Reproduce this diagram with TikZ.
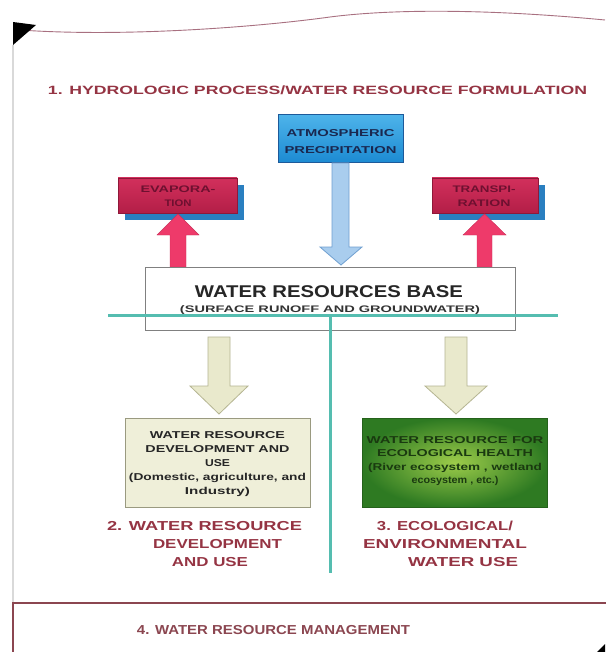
\documentclass[tikz,border=0pt]{standalone}
\usepackage{fontspec}
\setmainfont{Liberation Sans}
\usepackage{graphicx}
\newcommand\fw[2]{\resizebox{#1pt}{\height}{#2}}
\definecolor{labred}{HTML}{953443}
\definecolor{mgmtred}{HTML}{8B4650}
\definecolor{topline}{HTML}{A87080}
\definecolor{precipline}{HTML}{1D5A9A}
\definecolor{precipTop}{HTML}{4DB3EA}
\definecolor{precipBot}{HTML}{1C8AD2}
\definecolor{preciptext}{HTML}{1A2850}
\definecolor{arrowblue}{HTML}{A9CDEE}
\definecolor{arrowblueline}{HTML}{6F9FD0}
\definecolor{redTop}{HTML}{D2305C}
\definecolor{redBot}{HTML}{B31E47}
\definecolor{redtext}{HTML}{6E1030}
\definecolor{shadowblue}{HTML}{2A7FC0}
\definecolor{arrowred}{HTML}{EE3A6A}
\definecolor{teal}{HTML}{55BDB0}
\definecolor{beige}{HTML}{E9E9CC}
\definecolor{beigeline}{HTML}{B5B592}
\definecolor{boxbeige}{HTML}{EFEFD9}
\definecolor{boxbeigeline}{HTML}{9A9A80}
\definecolor{greenLight}{HTML}{9CCC4A}
\definecolor{greenDark}{HTML}{2E7A22}
\definecolor{greentext}{HTML}{1A3A10}
\begin{document}
\begin{tikzpicture}[x=1pt,y=-1pt,
  txt/.style={inner sep=0pt, align=center},
  lab/.style={txt, text=labred, font=\fontsize{13}{18}\selectfont\bfseries},
  redbox/.style={draw=redBot!80!black, line width=0.6pt, top color=redTop, bottom color=redBot,
    minimum height=35pt, inner sep=0pt},
  shadowbox/.style={fill=shadowblue, minimum height=35pt, inner sep=0pt},
  redtxt/.style={txt, text=redtext, font=\fontsize{9.5}{14}\selectfont\bfseries},
  usebox/.style={minimum width=185pt, minimum height=89pt, inner sep=0pt, line width=0.8pt},
  boxtxt/.style={txt, font=\fontsize{10}{14}\selectfont\bfseries},
  redarrow/.style={fill=arrowred, draw=arrowred!85!black, line width=0.4pt},
  beigearrow/.style={fill=beige, draw=beigeline, line width=0.8pt},
  tealline/.style={draw=teal, line width=3pt}
]
\useasboundingbox (0,0) rectangle (605,652);
\fill[white] (0,0) rectangle (605,652);

% top decoration
\draw[topline, line width=0.9pt] (20,30) .. controls (120,37) and (250,28) .. (330,17)
  .. controls (400,8) and (500,10) .. (605,20);
\fill[black] (13,22) -- (36,25) -- (13,45) -- cycle;
\draw[black!15, line width=2pt] (13,45) -- (13,603);
\fill[black] (597,652) -- (605,644) -- (605,652) -- cycle;

% title
\node[lab, font=\fontsize{12}{14}\selectfont\bfseries] (title) at (317.5,90)
  {\fw{539}{1. HYDROLOGIC PROCESS/WATER RESOURCE FORMULATION}};

% precipitation
\node[draw=precipline, line width=1pt, top color=precipTop, bottom color=precipBot,
  minimum width=125pt, minimum height=48pt, inner sep=0pt] (precip) at (340.5,139) {};
\node[txt, text=preciptext, font=\fontsize{10}{17}\selectfont\bfseries] (preciptxt) at (340.5,141.5)
  {\fw{108}{ATMOSPHERIC}\\\fw{112}{PRECIPITATION}};

% evaporation / transpiration
\node[shadowbox, minimum width=119pt] (evapsh) at (184.5,202.5) {};
\node[redbox, minimum width=119pt] (evap) at (177.5,195.5) {};
\node[redtxt] (evaptxt) at (178,196) {\fw{75}{EVAPORA-}\\\fw{27}{TION}};
\node[shadowbox, minimum width=106pt] (transsh) at (492,202.5) {};
\node[redbox, minimum width=106pt] (trans) at (485,195.5) {};
\node[redtxt] (transtxt) at (484,196) {\fw{63}{TRANSPI-}\\\fw{53}{RATION}};

% arrows into/out of base
\path[redarrow] (170,267) -- (170,235) -- (157,235) -- (178,214) -- (199,235) -- (186,235) -- (186,267) -- cycle;
\path[redarrow] (477,267) -- (477,235) -- (463,235) -- (484.5,214) -- (506,235) -- (492,235) -- (492,267) -- cycle;
\path[fill=arrowblue, draw=arrowblueline, line width=0.8pt]
  (332,163) -- (332,247) -- (320,247) -- (341,265) -- (362,247) -- (349,247) -- (349,163) -- cycle;

% base
\node[draw=black!50, fill=white, line width=0.8pt, minimum width=370pt, minimum height=63pt, inner sep=0pt]
  (base) at (330,298.5) {};
\node[txt, font=\fontsize{17}{20}\selectfont\bfseries, text=black!85] (basetxt) at (329,292)
  {\fw{268}{WATER RESOURCES BASE}};
\node[txt, font=\fontsize{9.5}{12}\selectfont\bfseries, text=black!80] (basesub) at (330,310)
  {\fw{300}{(SURFACE RUNOFF AND GROUNDWATER)}};

% teal cross
\path[tealline] (108,315) -- (558,315);
\path[tealline] (330,315) -- (330,573);

% beige arrows
\path[beigearrow] (208,337) -- (208,386) -- (190,386) -- (219,414) -- (248,386) -- (230,386) -- (230,337) -- cycle;
\path[beigearrow] (445,337) -- (445,386) -- (425,386) -- (456,414) -- (487,386) -- (467,386) -- (467,337) -- cycle;

% use boxes
\node[usebox, fill=boxbeige, draw=boxbeigeline] (devbox) at (217.5,462.5) {};
\node[boxtxt, text=black!85] (devtxt) at (217.5,464)
  {\fw{135}{WATER RESOURCE}\\\fw{144}{DEVELOPMENT AND}\\\fw{25}{USE}\\\fw{177}{(Domestic, agriculture, and}\\\fw{65}{Industry)}};
\node[usebox, inner color=greenLight, outer color=greenDark, draw=greenDark!80!black] (ecobox) at (454.5,462.5) {};
\node[boxtxt, text=greentext, font=\fontsize{10}{13.3}\selectfont\bfseries] (ecotxt) at (455,461)
  {\fw{177}{WATER RESOURCE FOR}\\\fw{156}{ECOLOGICAL HEALTH}\\\fw{174}{(River ecosystem , wetland}\\\fw{87}{ecosystem , etc.)}};

% labels
\node[lab] (lab2a) at (204.5,526) {\fw{195}{2. WATER RESOURCE}};
\node[lab] (lab2b) at (217.5,544) {\fw{129}{DEVELOPMENT}};
\node[lab] (lab2c) at (210,562) {\fw{76}{AND USE}};
\node[lab] (lab3a) at (445,526) {\fw{136}{3. ECOLOGICAL/}};
\node[lab] (lab3b) at (445,544) {\fw{164}{ENVIRONMENTAL}};
\node[lab] (lab3c) at (463,562) {\fw{110}{WATER USE}};

% management
\node[draw=mgmtred, line width=1.5pt, minimum width=599pt, minimum height=59pt, inner sep=0pt]
  (mgmt) at (312.5,632.5) {};
\node[lab, text=mgmtred] (mgmttxt) at (273.5,630) {\fw{273}{4. WATER RESOURCE MANAGEMENT}};
\end{tikzpicture}
\end{document}
